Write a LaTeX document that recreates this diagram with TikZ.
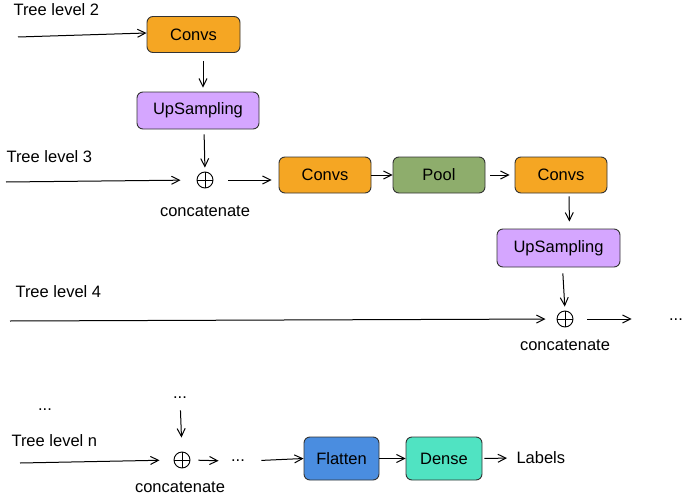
\documentclass[tikz,border=0pt]{standalone}
\usepackage{fontspec}
\setmainfont{Liberation Sans}
\usepackage{tikz}
\usetikzlibrary{arrows.meta,calc}
\usepackage{tkz-euclide}
\usepackage{xcolor}
\definecolor{ConvOrange}{HTML}{F5A623}
\definecolor{UpViolet}{HTML}{D5A6FF}
\definecolor{PoolGreen}{HTML}{8EAD6C}
\definecolor{FlatBlue}{HTML}{4A8DE0}
\definecolor{DenseTeal}{HTML}{50E3C2}
\definecolor{EdgeGray}{HTML}{333333}

\begin{document}
\begin{tikzpicture}[x=1pt,y=-1pt,
    font=\fontsize{16.5}{19}\selectfont,
    layer/.style={draw=EdgeGray,rounded corners=6pt,line width=0.9pt,minimum height=36pt,inner sep=0pt},
    cat/.style={circle,draw,line width=0.9pt,minimum size=16pt,inner sep=0pt,
        path picture={\draw[line width=0.9pt] (path picture bounding box.north) -- (path picture bounding box.south)
            (path picture bounding box.west) -- (path picture bounding box.east);}},
    flow/.style={-{Straight Barb[length=8pt,width=8pt]},line width=1pt}]
    \useasboundingbox (0,0) rectangle (685,495);

    \node[anchor=west] (lvltwo) at (10,10) {Tree level 2};
    \tkzDefPoint(18,37){intwo}
    \node[layer,fill=ConvOrange,minimum width=93pt] (convtwo) at (193.5,34.5) {Convs};
    \node[layer,fill=UpViolet,minimum width=122pt,minimum height=37pt] (uptwo) at (198,110.5) {UpSampling};

    \node[anchor=west] (lvlthree) at (3,157) {Tree level 3};
    \tkzDefPoint(6,182){inthree}
    \node[cat] (catthree) at (205,180) {};
    \node (catthreetxt) at (205,211) {concatenate};
    \node[layer,fill=ConvOrange,minimum width=92pt] (convthreea) at (325,175) {Convs};
    \node[layer,fill=PoolGreen,minimum width=92pt] (pool) at (439,175) {Pool};
    \node[layer,fill=ConvOrange,minimum width=92pt] (convthreeb) at (561,175) {Convs};
    \node[layer,fill=UpViolet,minimum width=123pt,minimum height=38pt] (upthree) at (558.5,248) {UpSampling};

    \node[anchor=west] (lvlfour) at (12,292) {Tree level 4};
    \tkzDefPoint(10,321){infour}
    \node[cat] (catfour) at (565,319) {};
    \node (catfourtxt) at (565,345) {concatenate};
    \node (moreright) at (676,320) {...};

    \node (moreleft) at (45,410) {...};
    \node (moreup) at (180,398) {...};
    \node[anchor=west] (lvln) at (8,441) {Tree level n};
    \tkzDefPoint(20,463){inn}
    \node[cat] (catn) at (182,460) {};
    \node (catntxt) at (180,487) {concatenate};
    \node (moremid) at (238,461) {...};
    \node[layer,fill=FlatBlue,minimum width=75pt,minimum height=43pt] (flat) at (341.5,458.5) {Flatten};
    \node[layer,fill=DenseTeal,minimum width=76pt,minimum height=43pt] (dense) at (444,458.5) {Dense};
    \node[anchor=west] (labels) at (513,458) {Labels};

    % level 2
    \draw[flow] (intwo) -- ([yshift=1.5pt]convtwo.west);
    \draw[flow,shorten <=8pt,shorten >=4pt] ([xshift=9.5pt]convtwo.south) -- ([xshift=5pt]uptwo.north);
    \draw[flow,shorten <=5pt,shorten >=4pt] ([xshift=6pt]uptwo.south) -- (catthree.north);
    % level 3
    \draw[flow,shorten >=16pt] (inthree) -- (catthree.west);
    \draw[flow,shorten <=15pt,shorten >=7pt] (catthree.east) -- (catthree.east -| convthreea.west);
    \draw[flow] (convthreea.east) -- (pool.west);
    \draw[flow,shorten <=5pt,shorten >=5pt] (pool.east) -- (convthreeb.west);
    \draw[flow,shorten <=3pt,shorten >=7pt] ([xshift=8pt]convthreeb.south) -- ([xshift=11pt]upthree.north);
    \draw[flow,shorten <=6pt,shorten >=4pt] ([xshift=4pt]upthree.south) -- (catfour.north);
    % level 4
    \draw[flow,shorten >=11pt] (infour) -- (catfour.west);
    \draw[flow,shorten <=14pt,shorten >=34pt] (catfour.east) -- (catfour.east -| moreright.west);
    % level n
    \draw[flow,shorten <=8pt,shorten >=14pt] (moreup) -- (catn.north);
    \draw[flow,shorten >=14pt] (inn) -- (catn.west);
    \draw[flow,shorten <=8pt,shorten >=9pt] (catn.east) -- (moremid.west);
    \draw[flow,shorten <=13pt] (moremid.east) -- (flat.west);
    \draw[flow] (flat.east) -- (dense.west);
    \draw[flow,shorten <=2pt,shorten >=6pt] (dense.east) -- (labels.west);
\end{tikzpicture}
\end{document}
